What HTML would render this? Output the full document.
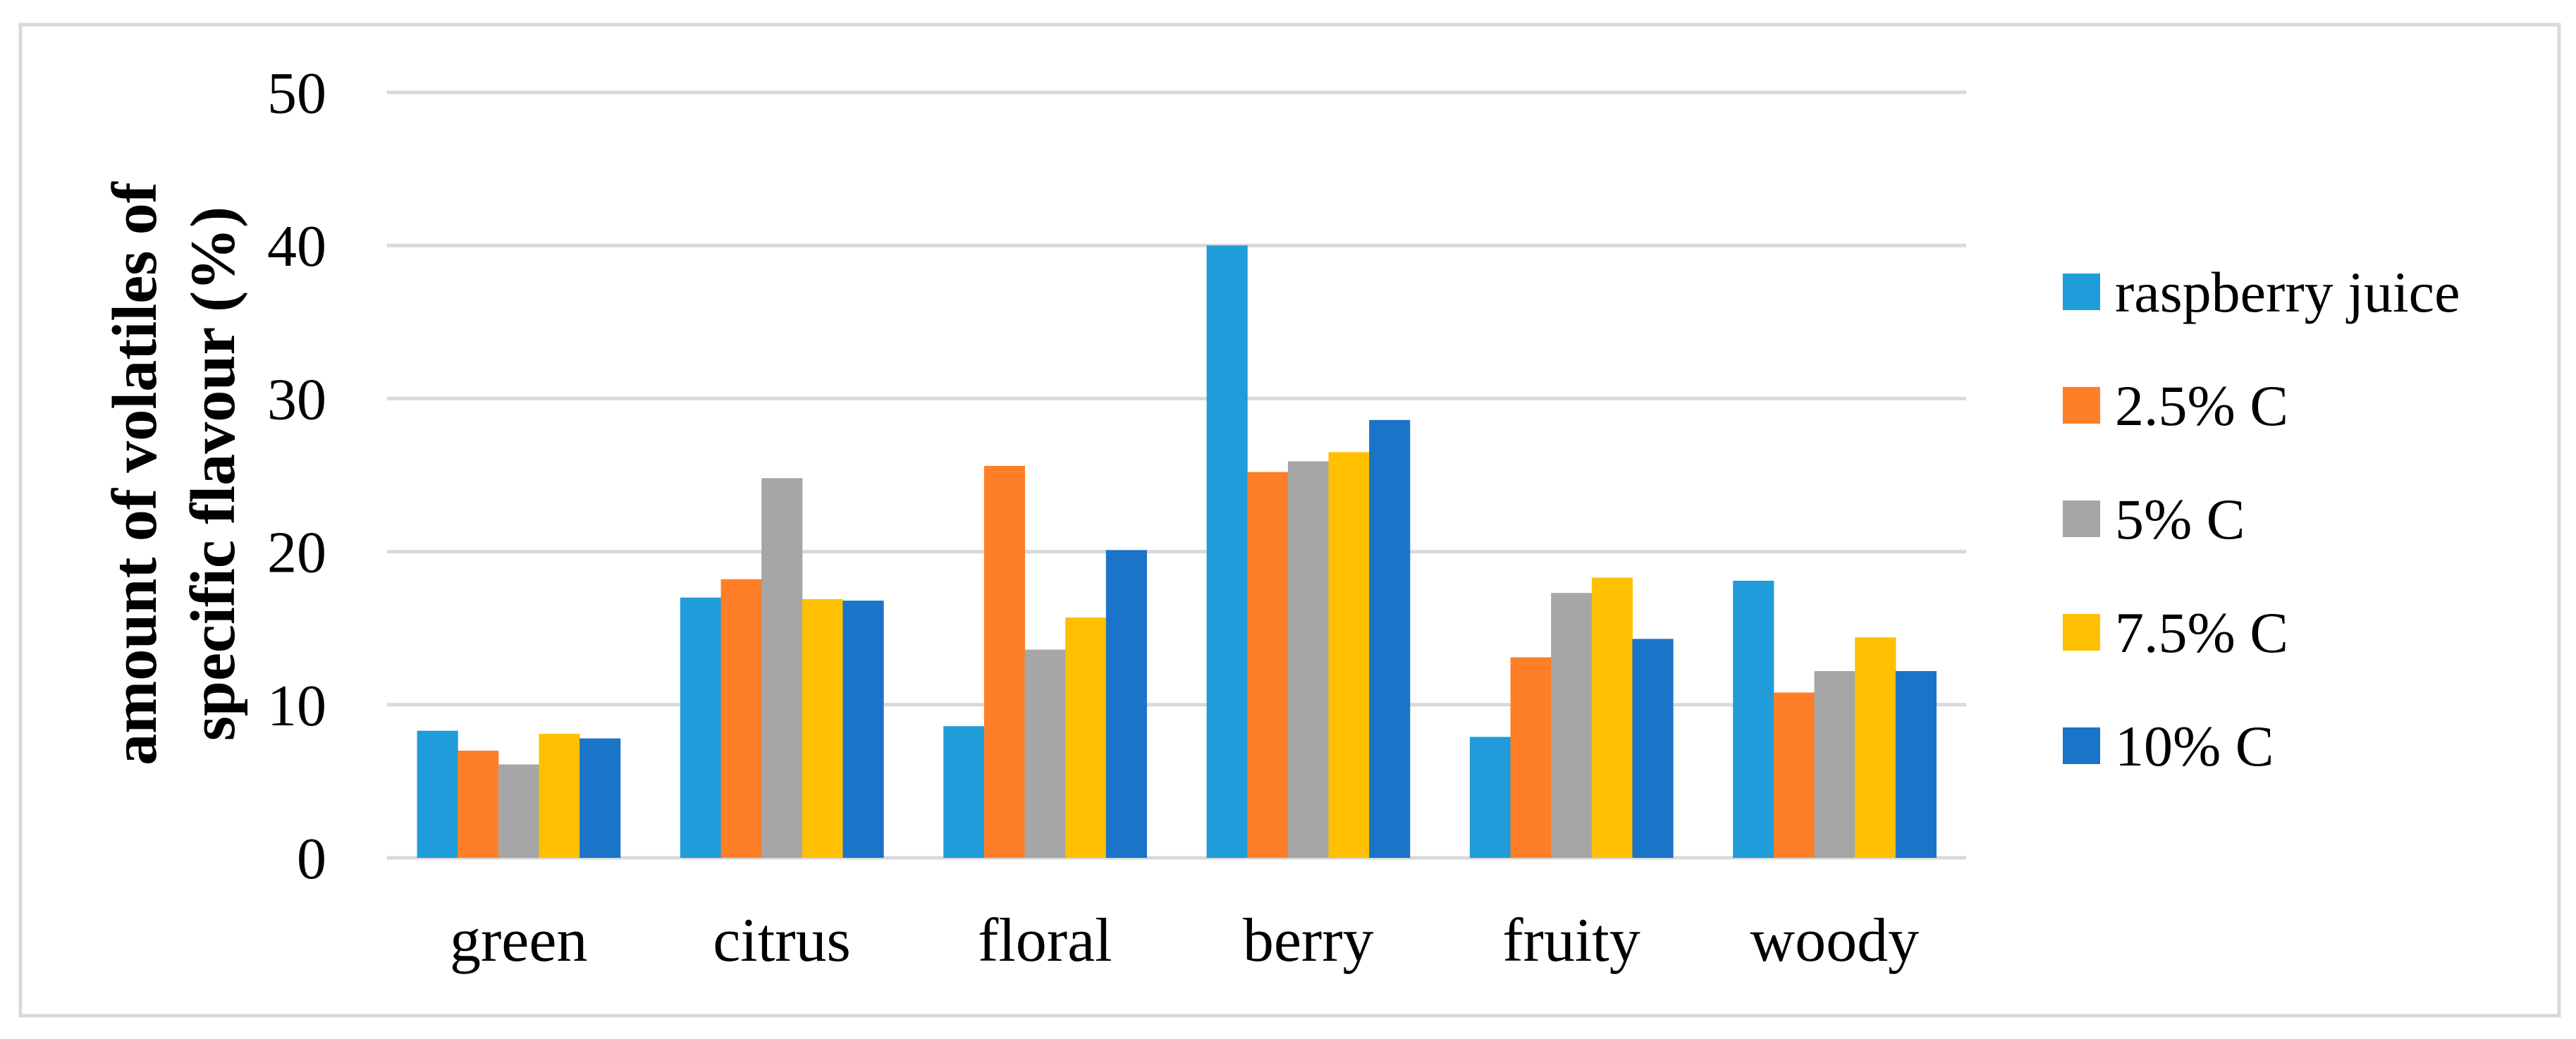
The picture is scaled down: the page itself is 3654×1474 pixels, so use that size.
<!DOCTYPE html>
<html><head><meta charset="utf-8"><style>
html,body{margin:0;padding:0;background:#fff;}
svg{display:block;}
text{font-family:"Liberation Serif",serif;fill:#000;}
</style></head><body>
<svg id="chart" width="3654" height="1474" viewBox="0 0 3654 1474">
<rect x="29" y="35" width="3601" height="1406" fill="#fff" stroke="#d9d9d9" stroke-width="5"/>
<g id="grid"></g>
<g id="yticks"></g>
<g id="bars"></g>
<g id="xticks"></g>
<text transform="translate(221,672) rotate(-90)" text-anchor="middle" font-size="90" font-weight="bold"><tspan x="0" y="0">amount of volatiles of</tspan><tspan x="0" y="111">specific flavour (%)</tspan></text>
<g id="legend"></g>
</svg>
<script>
const categories = ["green","citrus","floral","berry","fruity","woody"];
const seriesNames = ["raspberry juice","2.5% C","5% C","7.5% C","10% C"];
const seriesColors = ["#1f9cd9","#fe7f27","#a6a6a6","#fec000","#1a74c8"];
const rasp = [8.3,17.0,8.6,40.0,7.9,18.1];
const c25 = [7.0,18.2,25.6,25.2,13.1,10.8];
const c5 = [6.1,24.8,13.6,25.9,17.3,12.2];
const c75 = [8.1,16.9,15.7,26.5,18.3,14.4];
const c10 = [7.8,16.8,20.1,28.6,14.3,12.2];
const series = [rasp,c25,c5,c75,c10];
const yTicks = [0,10,20,30,40,50];

const NS="http://www.w3.org/2000/svg";
const L=549,R=2789,Y0=1217,Y50=131;
const y=v=>Y0-(v/50)*(Y0-Y50);
const bandW=(R-L)/categories.length;
const groupW=bandW*0.772, barW=groupW/series.length;
function mk(tag,attrs,parent){const e=document.createElementNS(NS,tag);for(const k in attrs)e.setAttribute(k,attrs[k]);parent.appendChild(e);return e;}
const grid=document.getElementById('grid'),yt=document.getElementById('yticks'),bars=document.getElementById('bars'),xt=document.getElementById('xticks'),lg=document.getElementById('legend');
yTicks.forEach(t=>{
  const ln=mk('line',{x1:L,x2:R,y1:y(t),y2:y(t),stroke:'#d9d9d9','stroke-width':5},grid);
  
  
  const tx=mk('text',{x:463,y:y(t)+29,'text-anchor':'end','font-size':84},yt);
  tx.textContent=t;
  
  
});
categories.forEach((c,i)=>{
  const cx=L+bandW*(i+0.5);
  series.forEach((s,j)=>{
    const v=s[i];
    const r=mk('rect',{x:cx-groupW/2+j*barW,y:y(v),width:barW+0.5,height:Y0-y(v),fill:seriesColors[j]},bars);
    
    
  });
  const tx=mk('text',{x:cx,y:1363,'text-anchor':'middle','font-size':88},xt);
  tx.textContent=c;
  
  
});
seriesNames.forEach((n,j)=>{
  const cy=414+j*161;
  const g=mk('g',{},lg);
  
  
  mk('rect',{x:2926,y:cy-26,width:53,height:52,fill:seriesColors[j]},g);
  const tx=mk('text',{x:3000,y:cy+28,'font-size':82},g);
  tx.textContent=n;
});
</script>
</body></html>
